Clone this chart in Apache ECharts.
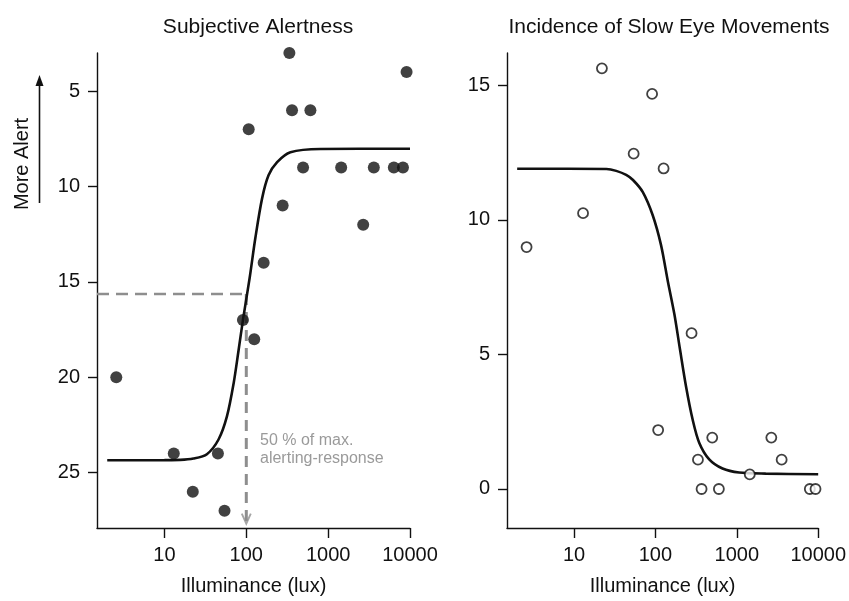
<!DOCTYPE html>
<html>
<head>
<meta charset="utf-8">
<script src="https://cdn.jsdelivr.net/npm/echarts@6/dist/echarts.min.js"></script>
<style>html,body{margin:0;padding:0;background:#fff;overflow:hidden}#c{width:849px;height:601px}</style>
</head>
<body>
<div id="c"></div>
<script>
// ---- data ----
const alertX = [2.58, 13.0, 22.2, 45, 54.2, 91, 125, 107, 163, 278, 336, 362, 494, 607, 1443, 2680, 3614, 6350, 8200, 9080];
const alertY = [20, 24, 26, 24, 27, 17, 18, 7, 14, 11, 3, 6, 9, 6, 9, 12, 9, 9, 9, 4];
const alertFitX = [2, 10, 15.6, 22.6, 33, 45.8, 58, 70, 80.5, 91, 110, 129, 156, 187, 238, 346, 805, 10000];
const alertFitY = [24.35, 24.34, 24.33, 24.26, 24.03, 23.26, 22.05, 20.32, 18.58, 17.0, 14.78, 12.7, 10.62, 9.41, 8.72, 8.2, 8.03, 8.02];

const semX = [2.61, 12.9, 22, 54, 91, 126, 108, 278, 333, 369, 499, 602, 1443, 2655, 3556, 7890, 9270];
const semY = [8.99, 10.25, 15.63, 12.46, 14.68, 11.91, 2.19, 5.79, 1.09, 0, 1.91, 0, 0.54, 1.91, 1.09, 0, 0];
const semFitX = [2, 25, 33, 43.7, 53, 70, 92.6, 117, 142, 171, 200, 238, 287, 346, 458, 667, 1067, 2265, 10000];
const semFitY = [11.9, 11.89, 11.82, 11.67, 11.48, 11.03, 10.17, 9.07, 7.72, 6.49, 5.2, 3.8, 2.57, 1.71, 1.1, 0.76, 0.61, 0.57, 0.55];

const halfLux = 100;          // 50 % of max. alerting-response
const halfLevel = 15.64;
const halfLineStartX = 1.5;
const halfArrowEndY = 27.67;

const xTicks = [10, 100, 1000, 10000];
const alertTicks = [5, 10, 15, 20, 25];
const semTicks = [0, 5, 10, 15];

const titles = ['Subjective Alertness', 'Incidence of Slow Eye Movements'];
const xName = 'Illuminance (lux)';
const yNoteLeft = 'More Alert';
const annotation = ['50 % of max.', 'alerting-response'];

// ---- chart ----
const FONT = 'Liberation Sans, Arial, Helvetica, sans-serif';
const INK = '#111111';
const GREY = '#8e8e8e';
const zip = (xs, ys) => xs.map((x, i) => [x, ys[i]]);

function xAxisCfg(gi) {
  return {
    gridIndex: gi, type: 'log', logBase: 10, min: 1.5, max: 10000,
    name: xName, nameLocation: 'middle', nameGap: 48,
    nameTextStyle: { fontFamily: FONT, fontSize: 20, color: INK },
    axisLine: { onZero: false, lineStyle: { color: INK, width: 1.4 } },
    axisTick: { customValues: xTicks, length: 10, lineStyle: { color: INK, width: 1.4 } },
    axisLabel: { customValues: xTicks, margin: 17, fontFamily: FONT, fontSize: 20, color: INK,
      formatter: v => String(v) },
    splitLine: { show: false }, minorTick: { show: false }
  };
}
function yAxisCfg(gi, min, max, ticks, inverse) {
  return {
    gridIndex: gi, type: 'value', min, max, inverse,
    axisLine: { show: true, onZero: false, lineStyle: { color: INK, width: 1.4 } },
    axisTick: { show: true, customValues: ticks, length: 9, lineStyle: { color: INK, width: 1.4 } },
    axisLabel: { customValues: ticks, margin: 17, fontFamily: FONT, fontSize: 20, color: INK },
    splitLine: { show: false }
  };
}

const chart = echarts.init(document.getElementById('c'), null, { renderer: 'canvas', width: 849, height: 601 });
chart.setOption({
  animation: false,
  backgroundColor: '#fff',
  title: [
    { text: titles[0], left: 253, top: 12, textAlign: 'center',
      textStyle: { fontFamily: FONT, fontSize: 21, fontWeight: 'normal', color: INK } },
    { text: titles[1], left: 664, top: 12, textAlign: 'center',
      textStyle: { fontFamily: FONT, fontSize: 21, fontWeight: 'normal', color: INK } }
  ],
  grid: [
    { left: 97, top: 53, width: 313, height: 480 },
    { left: 507, top: 53, width: 312, height: 480 }
  ],
  xAxis: [xAxisCfg(0), xAxisCfg(1)],
  yAxis: [yAxisCfg(0, 3, 27.9, alertTicks, true), yAxisCfg(1, -1.45, 16.2, semTicks, false)],
  graphic: [
    { type: 'line', shape: { x1: 39.5, y1: 203, x2: 39.5, y2: 82 }, style: { stroke: INK, lineWidth: 1.6 } },
    { type: 'polygon', shape: { points: [[39.5, 75], [35.5, 86], [43.5, 86]] }, style: { fill: INK } },
    { type: 'text', x: 22, y: 164, rotation: Math.PI / 2,
      style: { text: yNoteLeft, fontFamily: FONT, fontSize: 20, fill: INK, align: 'center', verticalAlign: 'middle' } },
    { type: 'text', x: 260, y: 432,
      style: { text: annotation.join('\n'), fontFamily: FONT, fontSize: 16, lineHeight: 17.5, fill: '#9a9a9a', align: 'left', verticalAlign: 'top' } }
  ],
  series: [
    { type: 'line', xAxisIndex: 0, yAxisIndex: 0, data: [[halfLineStartX, halfLevel], [halfLux, halfLevel]],
      symbol: 'none', lineStyle: { color: GREY, width: 2.5, type: [12, 7] }, z: 1 },
    { type: 'line', xAxisIndex: 0, yAxisIndex: 0, data: [[halfLux, halfLevel], [halfLux, halfArrowEndY]],
      symbol: 'none', lineStyle: { color: GREY, width: 3, type: [11, 7] }, z: 1 },
    { type: 'scatter', xAxisIndex: 0, yAxisIndex: 0, data: [[halfLux, halfArrowEndY]],
      symbol: 'path://M0,0 L5,10 L10,0', symbolSize: [9, 10], symbolOffset: [0, -5],
      itemStyle: { color: 'none', borderColor: GREY, borderWidth: 2 }, z: 1 },
    { type: 'line', xAxisIndex: 0, yAxisIndex: 0, data: zip(alertFitX, alertFitY),
      symbol: 'none', smooth: 0.3, lineStyle: { color: INK, width: 2.6 }, z: 2 },
    { type: 'scatter', xAxisIndex: 0, yAxisIndex: 0, data: zip(alertX, alertY),
      symbol: 'circle', symbolSize: 12, itemStyle: { color: INK }, z: 3 },
    { type: 'line', xAxisIndex: 1, yAxisIndex: 1, data: zip(semFitX, semFitY),
      symbol: 'none', smooth: 0.3, lineStyle: { color: INK, width: 2.6 }, z: 2 },
    { type: 'scatter', xAxisIndex: 1, yAxisIndex: 1, data: zip(semX, semY),
      symbol: 'circle', symbolSize: 10, itemStyle: { color: '#fff', borderColor: INK, borderWidth: 1.8 }, z: 3 }
  ]
});
</script>
</body>
</html>
